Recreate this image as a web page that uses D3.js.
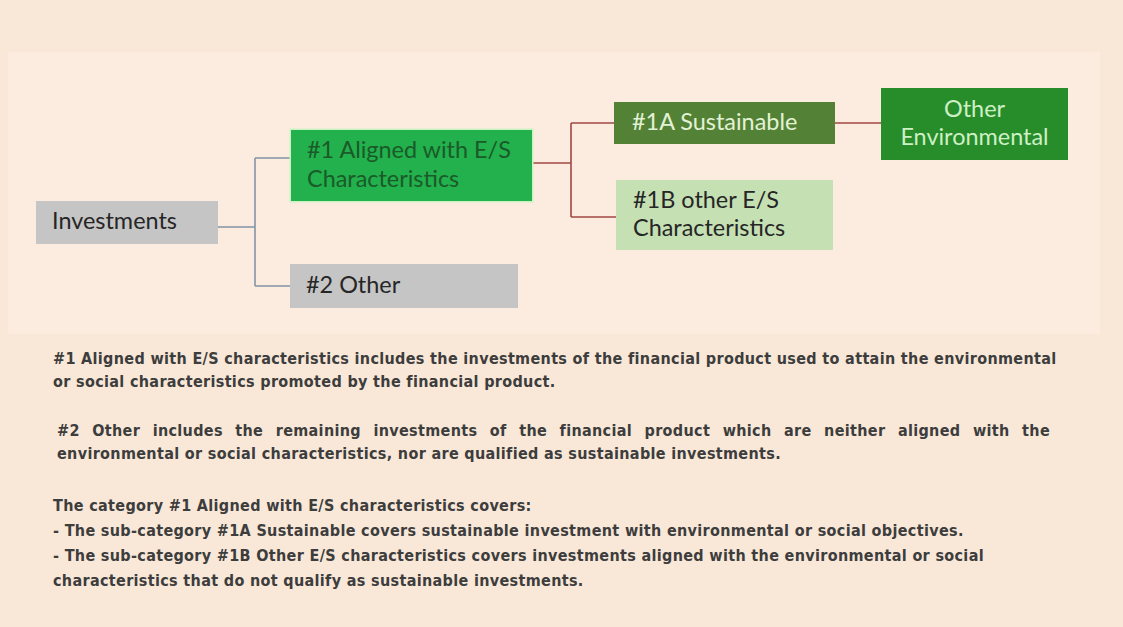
<!DOCTYPE html>
<html>
<head>
<meta charset="utf-8">
<script src="https://cdn.jsdelivr.net/npm/d3@7"></script>
<style>
  html, body { margin: 0; padding: 0; background: #f9e8d8; }
  svg { display: block; }
</style>
</head>
<body>
<svg id="chart" width="1123" height="627"></svg>
<script>
// ---------------- DATA ----------------
const nodeIds     = ["inv", "al", "oth", "sus", "oes", "env"];
const nodeLabels  = [
  ["Investments"],
  ["#1 Aligned with E/S", "Characteristics"],
  ["#2 Other"],
  ["#1A Sustainable"],
  ["#1B other E/S", "Characteristics"],
  ["Other", "Environmental"]
];
const nodeParents = [null, "inv", "inv", "al", "al", "sus"];

const paragraph1 = [
  "#1 Aligned with E/S characteristics includes the investments of the financial product used to attain the environmental",
  "or social characteristics promoted by the financial product."
];
const paragraph2 = [
  "#2 Other includes the remaining investments of the financial product which are neither aligned with the",
  "environmental or social characteristics, nor are qualified as sustainable investments."
];
const paragraph3 = [
  "The category #1 Aligned with E/S characteristics covers:",
  "- The sub-category #1A Sustainable covers sustainable investment with environmental or social objectives.",
  "- The sub-category #1B Other E/S characteristics covers investments aligned with the environmental or social",
  "characteristics that do not qualify as sustainable investments."
];

// ---------------- LAYOUT / STYLE ----------------
const layout = {
  inv: {x: 36,  y: 201, w: 182, h: 43, fill: "#c5c5c5", text: "#262626", align: "start", tx: 16, base: [28], outY: 227},
  al:  {x: 291, y: 130, w: 241, h: 71, fill: "#22b14c", text: "#1b5a29", align: "start", tx: 16, base: [28, 57], inY: 158, outY: 163, glow: "#c9f3c2"},
  oth: {x: 290, y: 264, w: 228, h: 44, fill: "#c5c5c5", text: "#262626", align: "start", tx: 16, base: [29], inY: 286},
  sus: {x: 614, y: 102, w: 221, h: 42, fill: "#538135", text: "#e2f2d6", align: "start", tx: 18, base: [28], inY: 123, outY: 123},
  oes: {x: 616, y: 180, w: 217, h: 70, fill: "#c5e0b3", text: "#262626", align: "start", tx: 17, base: [28, 56], inY: 217},
  env: {x: 881, y: 88,  w: 187, h: 72, fill: "#278c2a", text: "#cdf0c4", align: "middle", tx: 0, base: [29, 57], inY: 123}
};
const connectorColor = {inv: "#8395a6", al: "#a14944", sus: "#a14944"};
const elbowX = {inv: 255, al: 571, sus: 858};

const svg = d3.select("#chart");
const W = 1123, H = 627;

svg.append("rect").attr("x", 0).attr("y", 0).attr("width", W).attr("height", H).attr("fill", "#f9e8d8");
svg.append("rect").attr("x", 8).attr("y", 52).attr("width", 1092).attr("height", 282).attr("fill", "#fcebdf");

// ---------- font sizing helper ----------
function measure(str, family, size, weight, ls) {
  const t = svg.append("text").attr("font-family", family).attr("font-size", size)
    .attr("font-weight", weight).style("letter-spacing", (ls || 0) + "px").text(str);
  const w = t.node().getComputedTextLength();
  t.remove();
  return w;
}
const boxFont = "Lato, 'Open Sans', sans-serif";
const boxSize = 22 * 125 / measure("Investments", boxFont, 22, "normal");
const paraFont = "'DejaVu Sans Condensed', 'DejaVu Sans', sans-serif";
const paraSize = 16;
const paraLS = (1003 - measure(paragraph1[0], paraFont, paraSize, "bold")) / paragraph1[0].length;

// ---------- nodes from data ----------
const nodes = nodeIds.map((id, i) => ({id, labels: nodeLabels[i], parent: nodeParents[i], ...layout[id]}));
const byId = new Map(nodes.map(n => [n.id, n]));

// connectors (elbows)
const parentsWithKids = d3.group(nodes.filter(n => n.parent), n => n.parent);
const gLinks = svg.append("g").attr("fill", "none");
for (const [pid, kids] of parentsWithKids) {
  const p = byId.get(pid);
  const px = p.x + p.w, py = p.outY;
  const ex = elbowX[pid];
  const col = connectorColor[pid];
  const ys = kids.map(k => k.inY).concat([py]);
  const path = d3.path();
  path.moveTo(px, py); path.lineTo(ex, py);
  path.moveTo(ex, d3.min(ys)); path.lineTo(ex, d3.max(ys));
  kids.forEach(k => { path.moveTo(ex, k.inY); path.lineTo(k.x, k.inY); });
  gLinks.append("path").attr("d", path.toString()).attr("stroke", col).attr("stroke-width", 1.6);
}

// boxes
const gNodes = svg.selectAll("g.node").data(nodes).join("g").attr("class", "node");
gNodes.filter(d => d.glow).append("rect")
  .attr("x", d => d.x - 1.5).attr("y", d => d.y - 1.5)
  .attr("width", d => d.w + 3).attr("height", d => d.h + 3)
  .attr("fill", d => d.glow);
gNodes.append("rect")
  .attr("x", d => d.x).attr("y", d => d.y)
  .attr("width", d => d.w).attr("height", d => d.h)
  .attr("fill", d => d.fill);
gNodes.each(function(d) {
  const g = d3.select(this);
  d.labels.forEach((line, i) => {
    g.append("text")
      .attr("x", d.align === "middle" ? d.x + d.w / 2 : d.x + d.tx)
      .attr("y", d.y + d.base[i])
      .attr("text-anchor", d.align)
      .attr("font-family", boxFont)
      .attr("font-size", boxSize)
      .attr("fill", d.text)
      .text(line);
  });
});

// ---------- paragraphs ----------
function drawPara(lines, x, baselines, justifyWidths) {
  lines.forEach((line, i) => {
    const t = svg.append("text")
      .attr("x", x).attr("y", baselines[i])
      .attr("font-family", paraFont).attr("font-size", paraSize)
      .attr("font-weight", "bold").attr("fill", "#3d3d3d")
      .style("letter-spacing", paraLS + "px")
      .text(line);
    if (justifyWidths && justifyWidths[i]) {
      const nat = t.node().getComputedTextLength();
      const spaces = (line.match(/ /g) || []).length;
      if (spaces) t.style("word-spacing", ((justifyWidths[i] - nat) / spaces) + "px");
    }
  });
}
drawPara(paragraph1, 53, [364, 387]);
drawPara(paragraph2, 57, [436, 459], [993, null]);
drawPara(paragraph3, 53, [511, 536, 561, 586]);
</script>
</body>
</html>
